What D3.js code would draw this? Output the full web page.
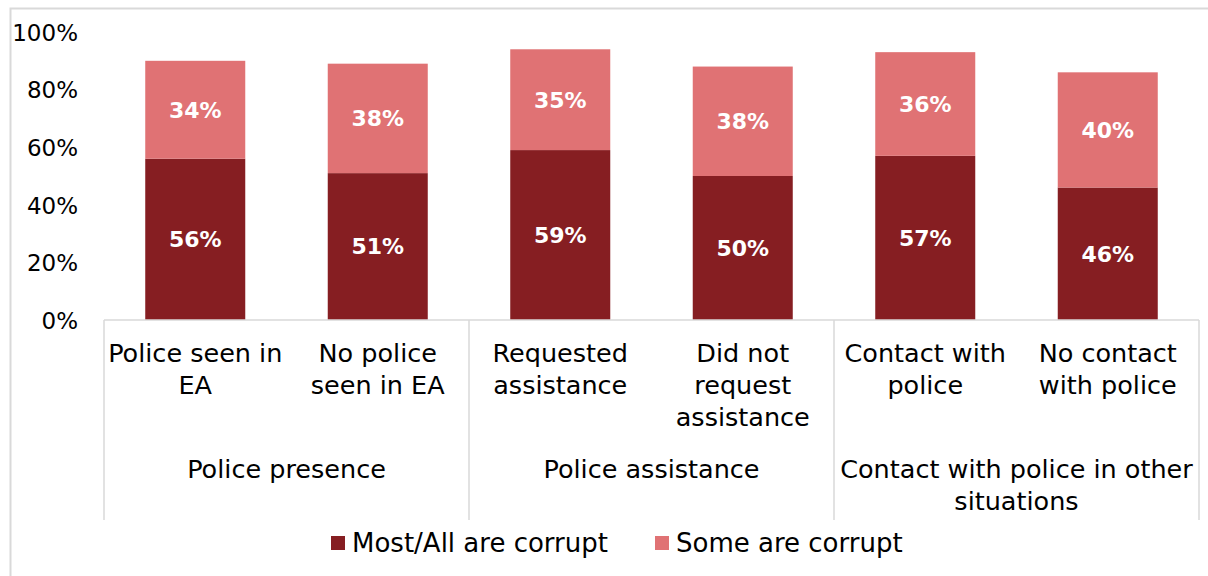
<!DOCTYPE html>
<html>
<head>
<meta charset="utf-8">
<script src="https://cdn.jsdelivr.net/npm/d3@7"></script>
<style>
  html, body { margin: 0; padding: 0; background: #fff; }
  svg { display: block; font-family: "DejaVu Sans", sans-serif; }
</style>
</head>
<body>
<svg id="chart" width="1208" height="576"></svg>
<script>
// Perceived police corruption by experience with the police
const categories = [
  "Police seen in\nEA", "No police\nseen in EA",
  "Requested\nassistance", "Did not\nrequest\nassistance",
  "Contact with\npolice", "No contact\nwith police"
];
const groups = ["Police presence", "Police assistance", "Contact with police in other\nsituations"];
const mostAll = [56, 51, 59, 50, 57, 46];
const some = [34, 38, 35, 38, 36, 40];
const seriesNames = ["Most/All are corrupt", "Some are corrupt"];
const seriesColors = ["#861E22", "#E07274"];
const yTicks = [0, 20, 40, 60, 80, 100];

const svg = d3.select("#chart");
const plotLeft = 104, plotRight = 1199, plotTop = 32, plotBottom = 320;
const gridColor = "#D9D9D9";

// Chart frame
svg.append("rect")
  .attr("x", 10.5).attr("y", 8.5)
  .attr("width", 1260).attr("height", 620)
  .attr("fill", "none").attr("stroke", gridColor).attr("stroke-width", 2);

const x = d3.scaleBand().domain(categories).range([plotLeft, plotRight])
  .paddingInner(0.452).paddingOuter(0.226);
const xg = d3.scaleBand().domain(groups).range([plotLeft, plotRight]).padding(0);
const y = d3.scaleLinear().domain([0, 100]).range([plotBottom, plotTop]);

// Stack the two series
const rows = categories.map((c, i) => ({ cat: c, a: mostAll[i], b: some[i] }));
const stack = d3.stack().keys(["a", "b"])(rows);

const layers = svg.append("g").selectAll("g").data(stack).join("g")
  .attr("fill", (d, i) => seriesColors[i]);
layers.selectAll("rect").data(d => d).join("rect")
  .attr("x", d => x(d.data.cat))
  .attr("width", x.bandwidth())
  .attr("y", d => y(d[1]))
  .attr("height", d => y(d[0]) - y(d[1]));

// Value labels in each segment
layers.selectAll("text").data(d => d).join("text")
  .attr("x", d => x(d.data.cat) + x.bandwidth() / 2)
  .attr("y", d => (y(d[0]) + y(d[1])) / 2)
  .attr("dy", "0.36em")
  .attr("text-anchor", "middle")
  .attr("fill", "#fff")
  .attr("font-weight", "bold")
  .attr("font-size", 22)
  .text(d => (d[1] - d[0]) + "%");

// Y axis
const yAxis = svg.append("g")
  .attr("transform", `translate(${plotLeft - 26},0)`)
  .call(d3.axisLeft(y).tickValues(yTicks).tickSize(0).tickPadding(0).tickFormat(d => d + "%"));
yAxis.select(".domain").remove();
yAxis.selectAll("text")
  .attr("font-family", "DejaVu Sans, sans-serif")
  .attr("font-size", 23)
  .attr("fill", "#000")
  .attr("dy", "0.36em");

// Baseline and group separators
const lines = svg.append("g").attr("stroke", gridColor).attr("stroke-width", 1.5);
lines.append("line").attr("x1", plotLeft).attr("x2", plotRight).attr("y1", plotBottom).attr("y2", plotBottom);
const seps = groups.map(g => xg(g)).concat([xg(groups[groups.length - 1]) + xg.bandwidth()]);
lines.selectAll("line.sep").data(seps).join("line")
  .attr("class", "sep")
  .attr("x1", d => d).attr("x2", d => d)
  .attr("y1", plotBottom).attr("y2", 520);

// Category labels
const lineH = 32;
svg.append("g").selectAll("text").data(categories).join("text")
  .attr("x", d => x(d) + x.bandwidth() / 2)
  .attr("y", 362)
  .attr("text-anchor", "middle")
  .attr("font-size", 25.5)
  .attr("fill", "#000")
  .each(function (d) {
    const t = d3.select(this);
    d.split("\n").forEach((ln, i) => {
      t.append("tspan").attr("x", x(d) + x.bandwidth() / 2)
        .attr("dy", i === 0 ? 0 : lineH).text(ln);
    });
  });

// Group labels
svg.append("g").selectAll("text").data(groups).join("text")
  .attr("x", d => xg(d) + xg.bandwidth() / 2)
  .attr("y", 478)
  .attr("text-anchor", "middle")
  .attr("font-size", 25.5)
  .attr("fill", "#000")
  .each(function (d) {
    const t = d3.select(this);
    d.split("\n").forEach((ln, i) => {
      t.append("tspan").attr("x", xg(d) + xg.bandwidth() / 2)
        .attr("dy", i === 0 ? 0 : lineH).text(ln);
    });
  });

// Legend
const legendX = [331, 655];
const legend = svg.append("g").selectAll("g").data(seriesNames).join("g")
  .attr("transform", (d, i) => `translate(${legendX[i]},536)`);
legend.append("rect").attr("width", 14).attr("height", 14)
  .attr("fill", (d, i) => seriesColors[i]);
legend.append("text").attr("x", 21).attr("y", 16)
  .attr("font-size", 26).attr("fill", "#000")
  .text(d => d);
</script>
</body>
</html>
